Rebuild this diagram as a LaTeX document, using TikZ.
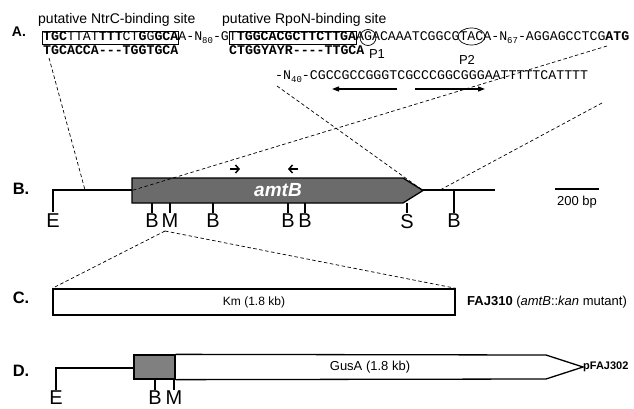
\documentclass[tikz,border=0pt]{standalone}
\usepackage{fontspec}
\setmainfont{Liberation Sans}
\newfontfamily\seqfont{Liberation Mono}
\usetikzlibrary{arrows.meta,positioning}
\newcommand\nsub[1]{\raisebox{-2.5pt}{\fontsize{9}{9}\selectfont #1}}
\newcommand\gp{-{}-{}-}

\begin{document}
\begin{tikzpicture}[x=1pt,y=-1pt,
  lbl/.style={font=\fontsize{16.5}{16.5}\selectfont\bfseries,inner sep=0},
  sitelbl/.style={font=\fontsize{14}{14}\selectfont,inner sep=0,anchor=base west},
  seq/.style={font=\seqfont\fontsize{13.25}{14}\selectfont,inner sep=0,anchor=base west},
  prom/.style={font=\fontsize{13}{13}\selectfont,inner sep=0},
  site/.style={font=\fontsize{20}{20}\selectfont,inner sep=0,anchor=north},
  txt/.style={font=\fontsize{13}{13}\selectfont,inner sep=0},
  dna/.style={line width=1.3pt},
  gene/.style={draw,line width=1.3pt,fill=black!58},
  zoomline/.style={line width=0.7pt,dash pattern=on 3.5pt off 2.5pt},
  seqbox/.style={draw,line width=0.7pt,inner sep=0},
  primer/.style={line width=1.5pt,-{Straight Barb[length=3.5pt,width=8pt]}},
  repeat/.style={line width=1.2pt,-{Triangle[length=7pt,width=5pt]}}
]
\useasboundingbox (0,0) rectangle (634,409);

%% --- A: promoter sequence ---
\node[lbl,font=\fontsize{14}{14}\selectfont\bfseries] (la) at (19,32) {A.};
\node[sitelbl] (ntrc) at (38,24) {putative NtrC-binding site};
\node[sitelbl] (rpon) at (222,24) {putative RpoN-binding site};

\node[seq] (seq1) at (43,41) {\textbf{TGC}TTAT\textbf{TTT}CT\textbf{G}G\textbf{GCA}A-N\nsub{80}-GT\textbf{TGGCACGCTTCTTGA}AGACAAATCGGCGTACA-N\nsub{67}-AGGAGCCTCG\textbf{ATG}};
\node[seqbox,minimum width=136pt,minimum height=13pt] (ntrcbox) at (110.5,38) {};
\node[seqbox,minimum width=127pt,minimum height=13pt] (rponbox) at (292.5,38) {};
\draw[line width=0.7pt] (368,37.5) ellipse [x radius=8pt,y radius=8pt];
\draw[line width=0.7pt] (471.5,36.5) ellipse [x radius=13.5pt,y radius=8.5pt];

\node[seq] (cons1) at (43,55) {\bfseries TGCACCA\gp TGGTGCA};
\node[seq] (cons2) at (229,55) {\bfseries CTGGYAYR\gp-TTGCA};
\node[prom] (p1) at (377,54) {P1};
\node[prom] (p2) at (467,60) {P2};

\node[seq] (seq2) at (275,80) {-N\nsub{40}-CGCCGCCGGGTCGCCCGGCGGGAATTTTTCATTTT};
\coordinate (ir1a) at (397,89);
\coordinate (ir1b) at (332,89);
\coordinate (ir2a) at (415,89);
\coordinate (ir2b) at (485,89);
\draw[repeat] (ir1a) -- (ir1b);
\draw[repeat] (ir2a) -- (ir2b);

%% --- B: amtB region ---
\node[lbl] (lb) at (21,189) {B.};
\coordinate (bE) at (53,190);
\coordinate (bend) at (495,190);
\draw[dna] (53,212) -- (bE) -- (bend);
\draw[gene] (132,178) -- (403,178) -- (423,190.5) -- (403,203) -- (132,203) -- cycle;
\coordinate (gstart) at (132,190.5);
\coordinate (gtip) at (423,190.5);
\node[font=\fontsize{19}{19}\selectfont\bfseries\itshape,text=white,inner sep=0] (amtb) at (278,190) {amtB};
\coordinate (pf1) at (230,169);
\coordinate (pf2) at (240,169);
\coordinate (pr1) at (298,169);
\coordinate (pr2) at (288,169);
\draw[primer] (pf1) -- (pf2);
\draw[primer] (pr1) -- (pr2);

\foreach \x/\c in {152/B,170/M,213/B,288/B,305/B,407/S} {
  \draw[dna] (\x,203) -- (\x,213);
  \node[site] at (\x,214) {\c};
}
\draw[dna] (454,190) -- (454,213);
\node[site] (bB) at (454,214) {B};
\node[site] (bEl) at (53,214) {E};

\coordinate (sb1) at (555,189);
\coordinate (sb2) at (599,189);
\draw[line width=1.2pt] (sb1) -- (sb2);
\node[txt] (scale) at (577,202) {200 bp};

%% --- dashed zoom lines A -> B ---
\coordinate (ntrcfoot) at (49,58);
\coordinate (bjoin) at (85,190);
\coordinate (atgfoot) at (607,46);
\coordinate (n40foot) at (277,86);
\coordinate (tttfoot) at (602,103);
\coordinate (bright) at (440,190);
\draw[zoomline] (ntrcfoot) -- (bjoin);
\draw[zoomline] (atgfoot) -- (gstart);
\draw[zoomline] (n40foot) -- (gtip);
\draw[zoomline] (tttfoot) -- (bright);

%% --- C: insertion mutant ---
\node[lbl] (lc) at (21,298) {C.};
\node[draw,line width=1.4pt,minimum width=402pt,minimum height=26pt,inner sep=0] (km) at (254,302) {};
\node[txt,font=\fontsize{12}{12}\selectfont] (kmlbl) at (km) {Km (1.8 kb)};
\node[txt,anchor=west] (faj) at (467,302) {\textbf{FAJ310} (\textit{amtB}::\textit{kan} mutant)};
\coordinate (apex) at (165,231);
\draw[zoomline] (apex) -- (km.north west);
\draw[zoomline] (apex) -- (km.north east);

%% --- D: gusA fusion ---
\node[lbl] (ld) at (21,371) {D.};
\coordinate (dE) at (56,368);
\draw[dna] (56,390) -- (dE) -- (134,368);
\node[draw,line width=1.3pt,fill=black!50,minimum width=41pt,minimum height=24pt,inner sep=0] (prom) at (154.5,367) {};
\draw[line width=1.3pt] (prom.north east) -- (546,355) -- (583,367) -- (546,379) -- (prom.south east);
\coordinate (gustip) at (583,367);
\node[txt] (gus) at (370,367) {GusA (1.8 kb)};
\node[font=\fontsize{11}{11}\selectfont\bfseries,inner sep=0,anchor=west] (pfaj) at (gustip) {pFAJ302};
\foreach \x/\c in {155/B,174/M} {
  \draw[dna] (\x,379) -- (\x,390);
  \node[site] at (\x,391) {\c};
}
\node[site] (dEl) at (56,391) {E};
\end{tikzpicture}
\end{document}
